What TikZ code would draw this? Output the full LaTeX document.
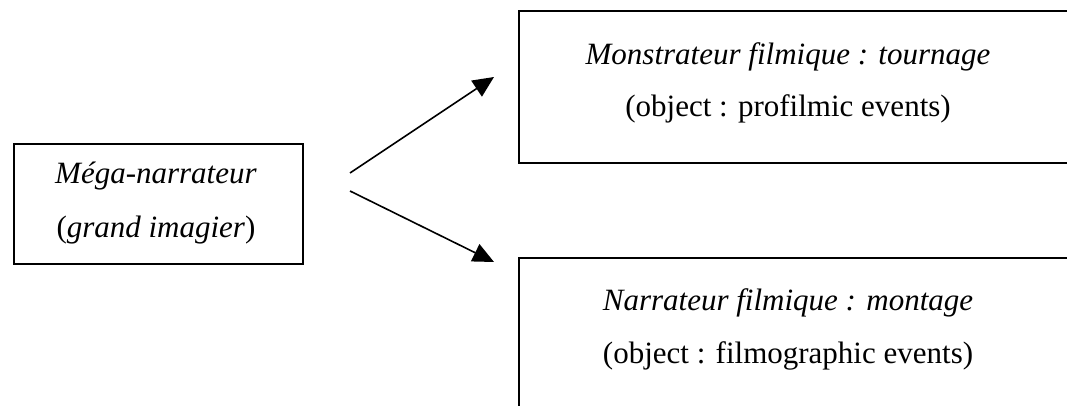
\documentclass[tikz,border=0pt]{standalone}
\usepackage{fontspec}
\setmainfont{Liberation Serif}
\usetikzlibrary{arrows.meta}

\tikzset{
  frame/.style={draw, line width=1.8pt, inner sep=0pt, anchor=north west},
  label/.style={inner sep=0pt, anchor=base, font=\fontsize{31}{37}\selectfont},
  arrowline/.style={line width=1.6pt, -{Triangle[length=21pt,width=19pt]}}
}

\begin{document}
\begin{tikzpicture}[x=1pt,y=-1pt]
  \useasboundingbox (0,0) rectangle (1067,406);
  \clip (0,0) rectangle (1067,406);

  % left box: the mega-narrator
  \node[frame, minimum width=289pt, minimum height=120pt] (mega) at (13,143) {};
  \node[label] (megaA) at (156,183) {\textit{Méga-narrateur}};
  \node[label] (megaB) at (156,237) {(\textit{grand imagier})};

  % upper right box (runs past the right edge)
  \node[frame, minimum width=620pt, minimum height=152pt] (monst) at (518,10) {};
  \node[label] (monstA) at (788,65) {\textit{Monstrateur filmique : tournage}};
  \node[label] (monstB) at (788,117) {(object : profilmic events)};

  % lower right box (runs past the right and bottom edges)
  \node[frame, minimum width=620pt, minimum height=200pt] (narr) at (518,257) {};
  \node[label] (narrA) at (788,310) {\textit{Narrateur filmique : montage}};
  \node[label] (narrB) at (788,363) {(object : filmographic events)};

  % arrow ends
  \coordinate (upstart) at (350,173);
  \coordinate (upend) at (494,77);
  \coordinate (downstart) at (350,191);
  \coordinate (downend) at (494,262);

  \draw[arrowline] (upstart) -- (upend);
  \draw[arrowline] (downstart) -- (downend);
\end{tikzpicture}
\end{document}
